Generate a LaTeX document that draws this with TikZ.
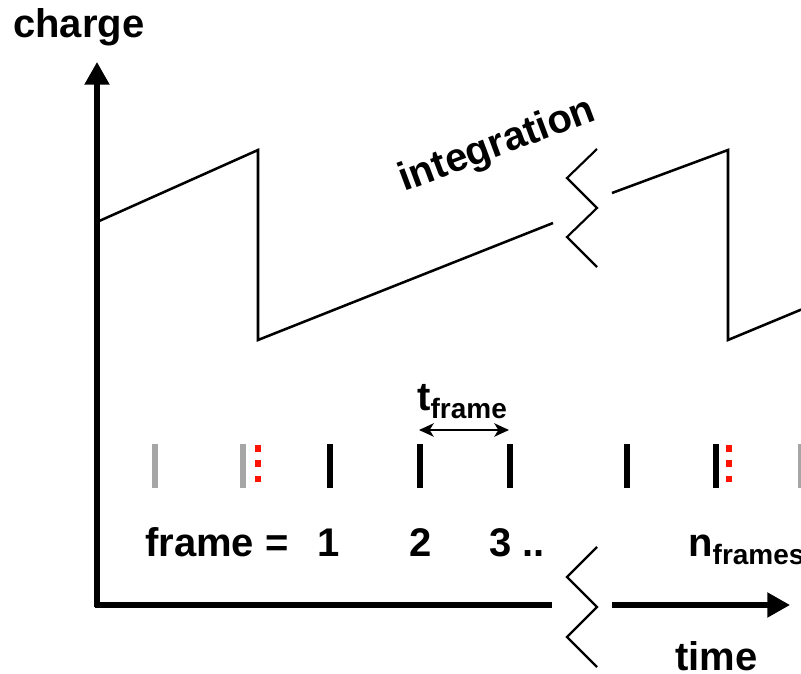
\documentclass[tikz,border=0pt]{standalone}
\usepackage{fontspec}
\setmainfont{Liberation Sans}
\usetikzlibrary{arrows.meta}
\begin{document}
\begin{tikzpicture}[x=0.75pt,y=-0.75pt,
  lbl/.style={font=\fontsize{30}{34}\selectfont\bfseries,inner sep=0pt},
  axisline/.style={line width=3.8pt},
  saw/.style={line width=1.9pt,line join=miter},
  brk/.style={line width=1.6pt},
  tick/.style={line width=5pt},
  graytick/.style={line width=5pt,color=black!35},
  reddot/.style={line width=5.2pt,color=red!85!orange,dash pattern=on 5.2pt off 6.4pt}]
\useasboundingbox (0,0) rectangle (801,674);
% axes
\coordinate (O) at (97,607);
\coordinate (Ytop) at (97,62);
\coordinate (Xa) at (552,605);
\coordinate (Xb) at (612,605);
\coordinate (Xtip) at (790,605);
\draw[axisline,-{Triangle[length=17pt,width=18pt]}] (O) -- (Ytop);
\draw[axisline] (95.1,605) -- (Xa);
\draw[axisline,-{Triangle[length=17pt,width=18pt]}] (Xb) -- (Xtip);
% break marks
\draw[brk] (597,547) -- (567,577) -- (597,607) -- (567,637) -- (597,667);
\draw[brk] (597,149) -- (567,178) -- (597,208) -- (567,237) -- (597,267);
% sawtooth
\draw[saw] (97,222) -- (258,150) -- (258,340) -- (553,223);
\draw[saw] (612,193) -- (728,150) -- (728,340) -- (805,308);
% labels
\node[lbl,anchor=base west] (charge) at (13,38) {charge};
\node[lbl,anchor=base west] (time) at (675,670) {time};
\node[lbl,anchor=base west,rotate=20.5] (integ) at (404,192) {integration};
% ticks
\draw[graytick] (155,444) -- (155,488);
\draw[graytick] (243,444) -- (243,488);
\draw[reddot] (258,444.6) -- (258,488);
\foreach \x in {330,420,510,627,716}{\draw[tick] (\x,444) -- (\x,488);}
\draw[reddot] (729,444.6) -- (729,488);
\draw[graytick] (801,444) -- (801,488);
% t_frame
\coordinate (ta) at (419,430);
\coordinate (tb) at (509,430);
\draw[line width=1.6pt,{Stealth[length=11pt,width=10pt,inset=3pt]}-{Stealth[length=11pt,width=10pt,inset=3pt]}] (ta) -- (tb);
\node[lbl,anchor=base west] (tf) at (417,410) {t\raisebox{-0.22em}{\fontsize{21}{24}\selectfont frame}};
% frame numbers
\node[lbl,anchor=base west] (fr) at (145,556) {frame =};
\node[lbl,anchor=base west] (f1) at (317,556) {1};
\node[lbl,anchor=base west] (f2) at (409,556) {2};
\node[lbl,anchor=base west] (f3) at (489,556) {3 ..};
\node[lbl,anchor=base west] (fn) at (688,556) {n\raisebox{-0.22em}{\fontsize{21}{24}\selectfont frames}};
\end{tikzpicture}
\end{document}
